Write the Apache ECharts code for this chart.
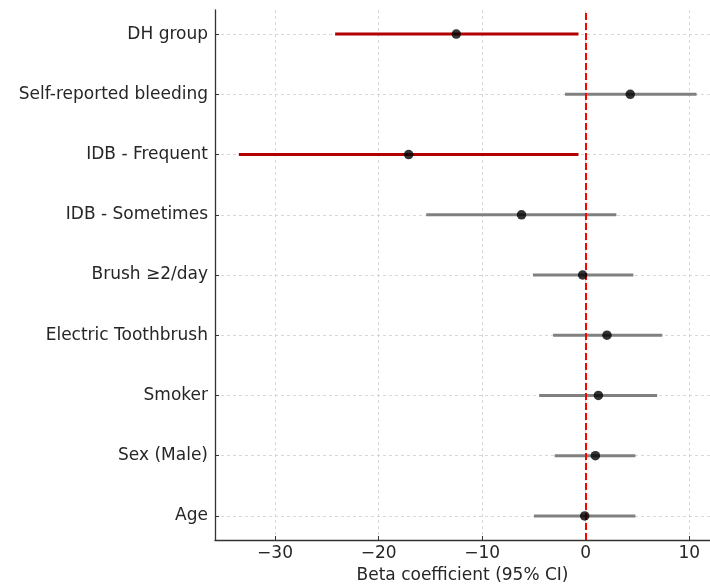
<!DOCTYPE html>
<html>
<head>
<meta charset="utf-8">
<script src="https://cdn.jsdelivr.net/npm/echarts@6/dist/echarts.min.js"></script>
<style>html,body{margin:0;padding:0;background:#fff;overflow:hidden}#chart{width:710px;height:584px}</style>
</head>
<body>
<div id="chart"></div>
<script>
// Categories from bottom (index 0) to top
const categories = ["Age", "Sex (Male)", "Smoker", "Electric Toothbrush", "Brush \u22652/day", "IDB - Sometimes", "IDB - Frequent", "Self-reported bleeding", "DH group"];
const estimates = [-0.1, 0.93, 1.22, 2.05, -0.3, -6.2, -17.1, 4.3, -12.5];
const lowerCI  = [-5.0, -3.0, -4.5, -3.15, -5.1, -15.4, -33.5, -2.0, -24.2];
const upperCI  = [4.8, 4.8, 6.9, 7.4, 4.6, 2.96, -0.7, 10.7, -0.7];
const xTicks = [-30, -20, -10, 0, 10];
const yTicks = [0, 1, 2, 3, 4, 5, 6, 7, 8];

const ciData = categories.map((c, i) => [lowerCI[i], upperCI[i], i, (upperCI[i] < 0 || lowerCI[i] > 0) ? 1 : 0]);
const pointData = categories.map((c, i) => [estimates[i], i]);

const chart = echarts.init(document.getElementById('chart'), null, {renderer: 'canvas'});
const font = 'DejaVu Sans';
chart.setOption({
  animation: false,
  backgroundColor: '#ffffff',
  grid: {left: 215, right: 0, top: 10, bottom: 44, containLabel: false, outerBoundsMode: 'none'},
  xAxis: {
    type: 'value', min: -35.8, max: 12,
    name: 'Beta coefficient (95% CI)', nameLocation: 'middle', nameGap: 26,
    nameTextStyle: {fontFamily: font, fontSize: 17, color: '#262626'},
    axisLine: {show: true, onZero: false, lineStyle: {color: '#333', width: 1.3}},
    axisTick: {show: true, inside: true, length: 4, customValues: xTicks, lineStyle: {color: '#333', width: 1}},
    axisLabel: {customValues: xTicks, fontFamily: font, fontSize: 17, color: '#262626', margin: 5,
      formatter: v => String(v).replace('-', '\u2212')},
    splitLine: {show: true, lineStyle: {color: '#cfcfcf', type: [3, 3], width: 0.8}}
  },
  yAxis: {
    type: 'value', min: -0.4, max: 8.4,
    axisLine: {show: true, onZero: false, lineStyle: {color: '#333', width: 1.3}},
    axisTick: {show: true, inside: true, length: 4, customValues: yTicks, lineStyle: {color: '#333', width: 1}},
    axisLabel: {customValues: yTicks, fontFamily: font, fontSize: 17, color: '#262626', margin: 7,
      formatter: v => categories[Math.round(v)]},
    splitLine: {show: true, lineStyle: {color: '#cfcfcf', type: [3, 3], width: 0.8}}
  },
  series: [
    {
      type: 'custom',
      data: ciData,
      encode: {x: [0, 1], y: 2},
      z: 2,
      renderItem: function (params, api) {
        const p1 = api.coord([api.value(0), api.value(2)]);
        const p2 = api.coord([api.value(1), api.value(2)]);
        const sig = api.value(3) === 1;
        return {
          type: 'line',
          shape: {x1: p1[0], y1: p1[1], x2: p2[0], y2: p2[1]},
          style: {stroke: sig ? '#b00000' : '#808080', lineWidth: 3}
        };
      }
    },
    {
      type: 'scatter',
      data: pointData,
      symbol: 'circle',
      symbolSize: 9.5,
      itemStyle: {color: '#000'},
      z: 4,
      markLine: {
        silent: true, symbol: 'none', z: 3,
        label: {show: false},
        lineStyle: {color: '#ff0000', type: [7, 3], width: 2},
        data: [{xAxis: 0}]
      }
    }
  ]
});
</script>
</body>
</html>
